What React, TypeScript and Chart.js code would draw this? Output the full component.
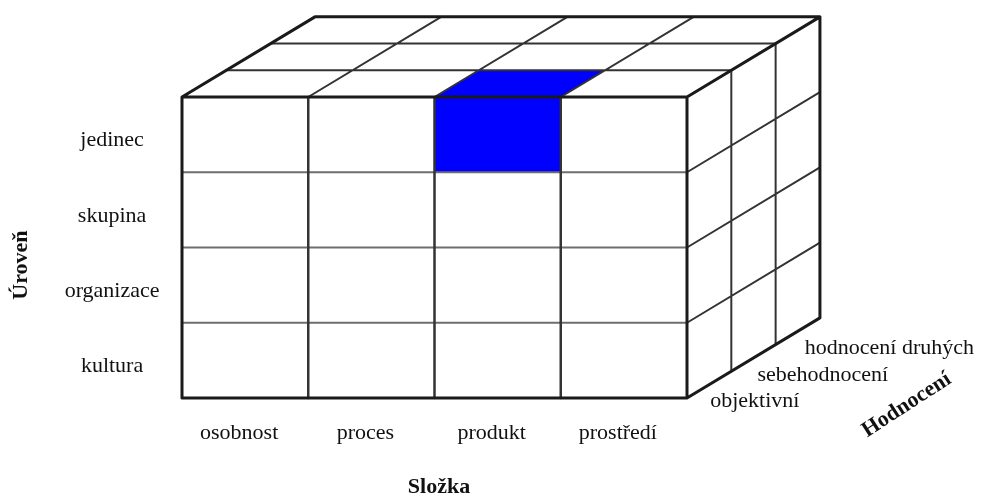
import React, { useEffect, useRef } from 'react';
import { Chart, registerables } from 'chart.js';

Chart.register(...registerables);

// ---- data ----
const components = ['osobnost', 'proces', 'produkt', 'prostředí']; // Složka (front, left→right)
const levels = ['kultura', 'organizace', 'skupina', 'jedinec']; // Úroveň (bottom→top)
const evaluations = ['objektivní', 'sebehodnocení', 'hodnocení druhých']; // Hodnocení (front→back)
const highlightComponent = 'produkt';
const highlightLevel = 'jedinec';
const highlightEvaluation = 'objektivní';
const titleX = 'Složka';
const titleY = 'Úroveň';
const titleZ = 'Hodnocení';

// ---- projection / layout ----
const DEPTH_X = 0.351; // x-units per depth layer
const DEPTH_Y = 0.355; // y-units per depth layer
const FONT = '"Liberation Serif", "Times New Roman", serif';
const FONT_SIZE = 22;

const nC = components.length;
const nR = levels.length;
const nD = evaluations.length;

type Pt = { x: number; y: number | null };
const P = (c: number, r: number, d: number): Pt => ({ x: c + d * DEPTH_X, y: r + d * DEPTH_Y });

function polylines(lines: Pt[][]): Pt[] {
  const out: Pt[] = [];
  lines.forEach((line, i) => {
    if (i > 0) out.push({ x: line[0].x, y: null });
    out.push(...line);
  });
  return out;
}

const range = (a: number, b: number) => Array.from({ length: b - a + 1 }, (_, i) => a + i);

// outline
const outline = polylines([
  [P(0, 0, 0), P(nC, 0, 0), P(nC, nR, 0), P(0, nR, 0), P(0, 0, 0)],
  [P(0, nR, 0), P(0, nR, nD), P(nC, nR, nD), P(nC, nR, 0)],
  [P(nC, nR, nD), P(nC, 0, nD), P(nC, 0, 0)],
]);
const frontVertical = polylines(range(1, nC - 1).map((c) => [P(c, 0, 0), P(c, nR, 0)]));
const frontHorizontal = polylines(range(1, nR - 1).map((r) => [P(0, r, 0), P(nC, r, 0)]));
const topInner = polylines([
  ...range(1, nD - 1).map((d) => [P(0, nR, d), P(nC, nR, d)]),
  ...range(1, nC - 1).map((c) => [P(c, nR, 0), P(c, nR, nD)]),
]);
const sideInner = polylines([
  ...range(1, nD - 1).map((d) => [P(nC, 0, d), P(nC, nR, d)]),
  ...range(1, nR - 1).map((r) => [P(nC, r, 0), P(nC, r, nD)]),
]);

const hc = components.indexOf(highlightComponent);
const hr = levels.indexOf(highlightLevel);
const hd = evaluations.indexOf(highlightEvaluation);
const highlightFront = [P(hc, hr, hd), P(hc + 1, hr, hd), P(hc + 1, hr + 1, hd), P(hc, hr + 1, hd)];
const highlightTop = [P(hc, nR, hd), P(hc + 1, nR, hd), P(hc + 1, nR, hd + 1), P(hc, nR, hd + 1)];

const lineDs = (data: Pt[], color: string, width: number) => ({
  data,
  showLine: true,
  borderColor: color,
  borderWidth: width,
  pointRadius: 0,
  fill: false,
  spanGaps: false,
  borderJoinStyle: 'round' as const,
  borderCapStyle: 'round' as const,
});
const fillDs = (data: Pt[]) => ({
  data,
  showLine: true,
  borderWidth: 0,
  borderColor: 'rgba(0,0,0,0)',
  backgroundColor: '#0000ff',
  pointRadius: 0,
  fill: 'shape',
});

const labelPlugin = {
  id: 'cubeLabels',
  afterDatasetsDraw(chart: any) {
    const { ctx } = chart;
    const xs = chart.scales.x;
    const ys = chart.scales.y;
    const X = (v: number) => xs.getPixelForValue(v);
    const Y = (v: number) => ys.getPixelForValue(v);
    ctx.save();
    ctx.fillStyle = '#111';
    ctx.textBaseline = 'middle';
    ctx.font = `${FONT_SIZE}px ${FONT}`;
    ctx.textAlign = 'center';
    levels.forEach((l, i) => ctx.fillText(l, X(-0.554), Y(i + 0.5) + 6));
    components.forEach((c, i) => ctx.fillText(c, X(i + 0.5) - 6, Y(-0.465)));
    ctx.textAlign = 'left';
    evaluations.forEach((e, d) => {
      const p = P(nC, 0, d + 0.5);
      ctx.fillText(e, X(p.x) + 1 + d * 3, Y(p.y as number) + 17);
    });
    ctx.font = `bold ${FONT_SIZE}px ${FONT}`;
    ctx.textAlign = 'center';
    ctx.fillText(titleX, X(2.036), Y(-1.183));
    ctx.save();
    ctx.translate(X(-1.275), Y(1.767));
    ctx.rotate(-Math.PI / 2);
    ctx.fillText(titleY, 0, 0);
    ctx.restore();
    ctx.save();
    ctx.translate(X(5.74), Y(-0.093));
    ctx.rotate((-33 * Math.PI) / 180);
    ctx.fillText(titleZ, 0, 0);
    ctx.restore();
    ctx.restore();
  },
};

export default function App() {
  const ref = useRef<HTMLCanvasElement>(null);
  useEffect(() => {
    document.body.style.margin = '0';
    const W = 981;
    const H = 495;
    const faceLeft = 182;
    const faceBottom = 398;
    const colW = 126.25;
    const rowH = 75.25;
    const chart = new Chart(ref.current as HTMLCanvasElement, {
      type: 'scatter',
      data: {
        datasets: [
          lineDs(outline, '#1a1a1a', 3),
          lineDs(frontVertical, '#333', 2.5),
          lineDs(frontHorizontal, '#6e6e6e', 2),
          lineDs(topInner, '#333', 2),
          lineDs(sideInner, '#333', 2),
          fillDs(highlightFront),
          fillDs(highlightTop),
        ] as any,
      },
      options: {
        animation: false,
        responsive: false,
        events: [],
        layout: { padding: 0 },
        plugins: { legend: { display: false }, tooltip: { enabled: false }, title: { display: false } },
        scales: {
          x: {
            type: 'linear',
            display: false,
            bounds: 'data',
            min: -faceLeft / colW,
            max: (W - faceLeft) / colW,
          },
          y: {
            type: 'linear',
            display: false,
            bounds: 'data',
            min: -(H - faceBottom) / rowH,
            max: faceBottom / rowH,
          },
        },
      },
      plugins: [labelPlugin],
    });
    return () => chart.destroy();
  }, []);
  return (
    <div style={{ width: 981, height: 495, background: '#fff' }}>
      <canvas ref={ref} width={981} height={495} style={{ display: 'block' }} />
    </div>
  );
}
